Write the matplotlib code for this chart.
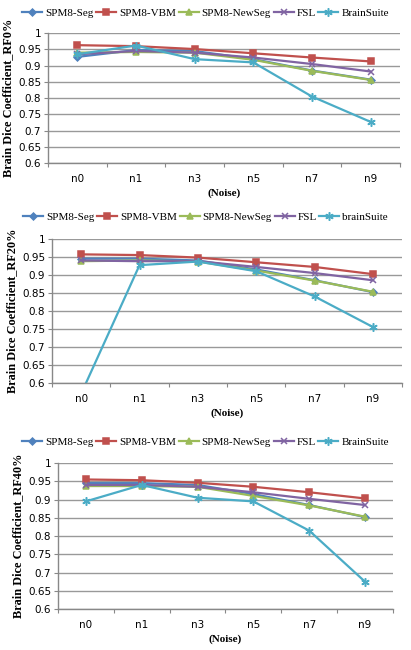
import numpy as np
from matplotlib import pyplot as plt

noise = ['n0', 'n1', 'n3', 'n5', 'n7', 'n9']
methods = ['SPM8-Seg', 'SPM8-VBM', 'SPM8-NewSeg', 'FSL', 'BrainSuite']

# RF0%
rf0_seg = [0.927, 0.948, 0.945, 0.920, 0.885, 0.857]
rf0_vbm = [0.963, 0.960, 0.951, 0.938, 0.925, 0.913]
rf0_newseg = [0.940, 0.942, 0.940, 0.918, 0.884, 0.856]
rf0_fsl = [0.935, 0.945, 0.940, 0.925, 0.905, 0.882]
rf0_bs = [0.935, 0.962, 0.920, 0.910, 0.805, 0.727]

# RF20%
rf20_seg = [0.945, 0.945, 0.940, 0.915, 0.885, 0.852]
rf20_vbm = [0.957, 0.955, 0.948, 0.935, 0.922, 0.902]
rf20_newseg = [0.938, 0.940, 0.937, 0.912, 0.884, 0.853]
rf20_fsl = [0.940, 0.938, 0.938, 0.922, 0.905, 0.885]
rf20_bs = [0.570, 0.927, 0.937, 0.910, 0.840, 0.755]

# RF40%
rf40_seg = [0.945, 0.945, 0.940, 0.915, 0.885, 0.852]
rf40_vbm = [0.955, 0.953, 0.946, 0.935, 0.920, 0.903]
rf40_newseg = [0.937, 0.937, 0.935, 0.910, 0.884, 0.853]
rf40_fsl = [0.940, 0.940, 0.935, 0.920, 0.902, 0.885]
rf40_bs = [0.895, 0.940, 0.905, 0.895, 0.815, 0.675]

colors = ['#4F81BD', '#C0504D', '#9BBB59', '#8064A2', '#4BACC6']
markers = ['D', 's', '^', 'x', (6, 2, 0)]
msizes = [3.5, 5, 5, 5, 6]

fig = plt.figure(figsize=(4.11, 6.5), dpi=100)

panels = [
    ([0.117, 0.749, 0.856, 0.200], 0.98, 'RF0%',
     [rf0_seg, rf0_vbm, rf0_newseg, rf0_fsl, rf0_bs], methods),
    ([0.1265, 0.411, 0.852, 0.2215], 0.666, 'RF20%',
     [rf20_seg, rf20_vbm, rf20_newseg, rf20_fsl, rf20_bs], methods[:4] + ['brainSuite']),
    ([0.141, 0.063, 0.815, 0.2246], 0.32, 'RF40%',
     [rf40_seg, rf40_vbm, rf40_newseg, rf40_fsl, rf40_bs], methods),
]

serif = 'Liberation Serif'
x = np.arange(len(noise))
for rect, leg_y, rf, series, names in panels:
    ax = fig.add_axes(rect)
    for vals, name, c, m, ms in zip(series, names, colors, markers, msizes):
        ax.plot(x, vals, color=c, lw=1.6, marker=m, ms=ms, mew=1.1, label=name)
    ax.set_xlim(-0.5, len(noise) - 0.5)
    ax.set_ylim(0.6, 1.0)
    ax.set_yticks(np.arange(0.6, 1.001, 0.05))
    ax.set_yticklabels(['0.6', '0.65', '0.7', '0.75', '0.8', '0.85', '0.9', '0.95', '1'],
                       fontsize=7.5)
    ax.set_xticks(x)
    ax.set_xticklabels(noise, fontsize=7.5)
    ax.tick_params(axis='x', length=0, pad=8)
    ax.tick_params(axis='y', length=3, width=0.8, color='#888888', pad=2)
    ax.set_xticks(np.arange(-0.5, len(noise)), minor=True)
    ax.tick_params(axis='x', which='minor', length=3, width=0.8, color='#888888')
    ax.grid(axis='y', color='#999999', lw=1)
    ax.set_axisbelow(True)
    for s in ['top', 'right']:
        ax.spines[s].set_visible(False)
    for s in ['left', 'bottom']:
        ax.spines[s].set_color('#888888')
        ax.spines[s].set_linewidth(1)
    ax.set_ylabel('Brain Dice Coefficient_' + rf, family=serif, fontweight='bold',
                  fontsize=8.8, labelpad=3)
    ax.set_xlabel('(Noise)', family=serif, fontweight='bold', fontsize=8, labelpad=3)
    fig.legend(*ax.get_legend_handles_labels(), loc='center', bbox_to_anchor=(0.5, leg_y),
               ncol=5, frameon=False, prop={'family': serif, 'size': 8},
               handlelength=1.8, handletextpad=0.25, columnspacing=0.25)

fig.savefig('out.png', dpi=100)
